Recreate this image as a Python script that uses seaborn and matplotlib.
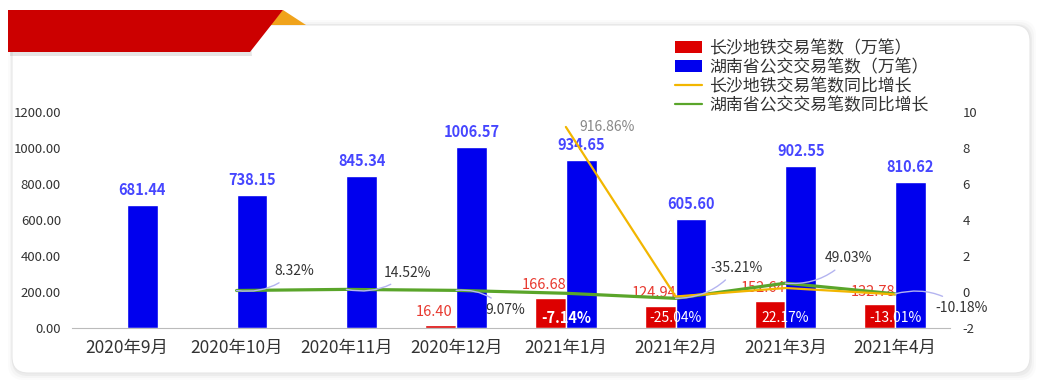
import numpy as np
import pandas as pd
import matplotlib.pyplot as plt
import seaborn as sns
from matplotlib.patches import FancyBboxPatch, Polygon, Patch
from matplotlib.lines import Line2D
from matplotlib.transforms import IdentityTransform

# 数据
months = ["2020年9月", "2020年10月", "2020年11月", "2020年12月",
          "2021年1月", "2021年2月", "2021年3月", "2021年4月"]
metro_count = [np.nan, np.nan, np.nan, 16.40, 166.68, 124.94, 152.64, 132.78]
bus_count = [681.44, 738.15, 845.34, 1006.57, 934.65, 605.60, 902.55, 810.62]
metro_yoy = [np.nan, np.nan, np.nan, np.nan, 9.1686, -0.2504, 0.2217, -0.1301]
bus_yoy = [np.nan, 0.0832, 0.1452, 0.0907, -0.0714, -0.3521, 0.4903, -0.1018]

s_metro = "长沙地铁交易笔数（万笔）"
s_bus = "湖南省公交交易笔数（万笔）"
s_metro_yoy = "长沙地铁交易笔数同比增长"
s_bus_yoy = "湖南省公交交易笔数同比增长"

df = pd.DataFrame({
    "month": months * 2,
    "value": metro_count + bus_count,
    "series": [s_metro] * 8 + [s_bus] * 8,
})

RED = "#dd0000"
BLUE = "#0000ee"
YELLOW = "#f2b600"
GREEN = "#5aa52a"

sns.set_theme(style="white")
plt.rcParams["font.family"] = ["Noto Sans CJK SC", "DejaVu Sans"]

fig = plt.figure(figsize=(10.42, 3.86), dpi=100)
H = 386

# 卡片背景与阴影
for k, a in [(6, 0.03), (4, 0.05), (2, 0.08)]:
    fig.add_artist(FancyBboxPatch((12 - k + 2, H - 373 - k - 1), 1018 + 2 * k - 2, 348 + 2 * k,
                                  boxstyle="round,pad=0,rounding_size=16",
                                  transform=IdentityTransform(), fc="#888888",
                                  ec="none", alpha=a, zorder=0))
fig.add_artist(FancyBboxPatch((12, H - 373), 1018, 348,
                              boxstyle="round,pad=0,rounding_size=16",
                              transform=IdentityTransform(), fc="white",
                              ec="#e6e6e6", lw=0.8, zorder=0.1))
# 顶部红色横幅
fig.add_artist(Polygon([(283, H - 10), (306, H - 25), (270, H - 25)], closed=True,
                       transform=IdentityTransform(), fc="#f0a31c", ec="none", zorder=0.2))
fig.add_artist(Polygon([(10, H - 14), (248, H - 14), (252, H - 56), (10, H - 56)], closed=True,
                       transform=IdentityTransform(), fc="#999999", ec="none",
                       alpha=0.25, zorder=0.2))
fig.add_artist(Polygon([(8, H - 10), (283, H - 10), (250, H - 52), (8, H - 52)], closed=True,
                       transform=IdentityTransform(), fc="#cc0000", ec="none", zorder=0.3))

ax = fig.add_axes([72 / 1042, 1 - 328 / 386, (950 - 72) / 1042, (328 - 112) / 386])
ax.patch.set_alpha(0)
ax.set_zorder(2)

sns.barplot(data=df, x="month", y="value", hue="series",
            hue_order=[s_metro, s_bus], palette=[RED, BLUE],
            width=0.56, gap=0, dodge=True, saturation=1, ax=ax, legend=False)

ax.set_xlim(-0.5, 7.5)
ax.set_ylim(0, 1200)
ax.set_yticks(np.arange(0, 1201, 200))
ax.set_yticklabels([f"{v:.2f}" for v in np.arange(0, 1201, 200)], fontsize=9.5, color="#333333")
ax.set_xlabel("")
ax.set_ylabel("")
ax.tick_params(axis="x", length=0, labelsize=12.5, labelcolor="#333333", pad=8)
ax.tick_params(axis="y", length=0, pad=8)
ax.set_xticks(np.arange(-0.5, 8, 1), minor=True)
ax.tick_params(axis="x", which="minor", length=4, color="#aaaaaa", width=0.8, direction="out")
for sp in ["top", "right", "left"]:
    ax.spines[sp].set_visible(False)
ax.spines["bottom"].set_color("#bbbbbb")
ax.spines["bottom"].set_linewidth(0.8)

# 柱顶数值
for i, v in enumerate(bus_count):
    ax.annotate(f"{v:.2f}", (i + 0.14, v), xytext=(0, 5), textcoords="offset points",
                ha="center", va="bottom", fontsize=10.5, fontweight="bold", color="#4646ff")
for i, v in enumerate(metro_count):
    if not np.isnan(v):
        ax.annotate(f"{v:.2f}", (i - 0.2, v), xytext=(0, 4), textcoords="offset points",
                    ha="center", va="bottom", fontsize=10.5, color="#e8392f")

# 同比增长折线（右轴）
ax2 = ax.twinx()
ax2.set_zorder(3)
x_idx = np.arange(len(months))
sns.lineplot(x=x_idx, y=bus_yoy, color=GREEN, linewidth=2.3, ax=ax2)
sns.lineplot(x=x_idx, y=metro_yoy, color=YELLOW, linewidth=1.6, ax=ax2)
ax2.set_xlim(-0.5, 7.5)
ax2.set_ylim(-2, 10)
ax2.set_yticks(np.arange(-2, 11, 2))
ax2.set_yticklabels([str(v) for v in range(-2, 11, 2)], fontsize=9.5, color="#333333")
ax2.tick_params(axis="y", length=0, pad=9)
ax2.set_ylabel("")
for sp in ax2.spines.values():
    sp.set_visible(False)

# 增长率标注
leader = dict(arrowstyle="-", color="#b4b4f0", lw=1, shrinkA=2, shrinkB=0)
bus_offsets = {1: (27, 14), 2: (27, 12), 3: (21, -14), 5: (25, 22), 6: (28, 18), 7: (29, -10)}
for i, (dx, dy) in bus_offsets.items():
    ax2.annotate(f"{bus_yoy[i] * 100:.2f}%", (i, bus_yoy[i]), xytext=(dx, dy),
                 textcoords="offset points", ha="left", va="center", fontsize=10,
                 color="#333333",
                 arrowprops=dict(leader, connectionstyle="arc3,rad=%.2f" % (-0.25 if dy > 0 else 0.25)))

ax.text(4, 55, f"{bus_yoy[4] * 100:.2f}%", ha="center", va="center", fontsize=10.5,
        fontweight="bold", color="white", zorder=5)
for i in [5, 6, 7]:
    ax.text(i, 55, f"{metro_yoy[i] * 100:.2f}%", ha="center", va="center", fontsize=10,
            color="white", zorder=5)
ax2.annotate(f"{metro_yoy[4] * 100:.2f}%", (4, metro_yoy[4]), xytext=(10, 0),
             textcoords="offset points", ha="left", va="center", fontsize=10, color="#888888")

# 图例
handles = [Patch(fc=RED, ec="none"), Patch(fc=BLUE, ec="none"),
           Line2D([], [], color=YELLOW, lw=1.6), Line2D([], [], color=GREEN, lw=1.6)]
fig.legend(handles, [s_metro, s_bus, s_metro_yoy, s_bus_yoy],
           loc="upper left", bbox_to_anchor=(660 / 1042, 1 - 24 / 386),
           frameon=False, fontsize=12.2, labelspacing=0.05, handlelength=1.6,
           handleheight=0.7, handletextpad=0.4, labelcolor="#333333")

fig.savefig("out.png", dpi=100)
